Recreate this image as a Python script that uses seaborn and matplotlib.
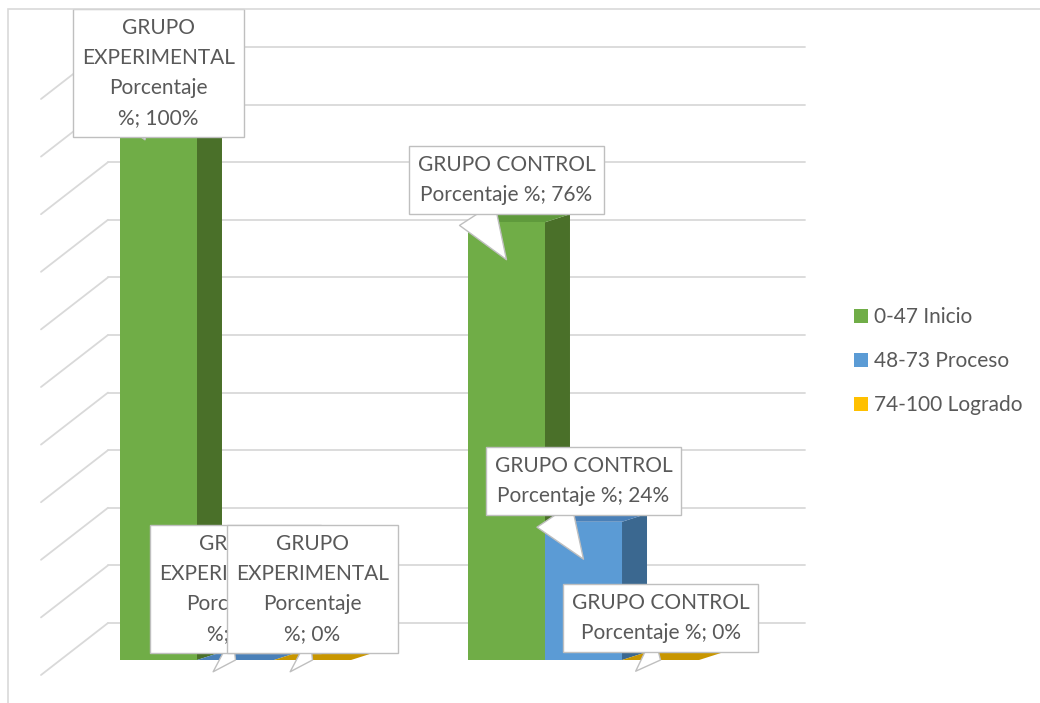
import textwrap
import numpy as np
import pandas as pd
import matplotlib
matplotlib.use("Agg")
import matplotlib.pyplot as plt
import seaborn as sns
from matplotlib.patches import Polygon, Rectangle

# data
grupos = ["GRUPO EXPERIMENTAL", "GRUPO CONTROL"]
niveles = ["0-47 Inicio", "48-73 Proceso", "74-100 Logrado"]
experimental = [100, 0, 0]
control = [76, 24, 0]

# colours (front, side, top) per level
front_colors = ["#70ad47", "#5b9bd5", "#ffc000"]
side_colors = ["#4a7029", "#3b6890", "#bf9000"]
top_colors = ["#5f9a3c", "#4a80b8", "#c89600"]
grid_color = "#d9d9d9"
text_color = "#595959"

# label layout: wrap width per group, tip drop (%) and box offset (px)
wrap_width = [12, 17]
tip_drop = [[0, 0, 0], [6.5, 6.5, 0]]
box_dy = [[11, 71, 71], [80, 78, 42]]

sns.set_theme(style="white")
plt.rcParams["font.family"] = ["Lato", "DejaVu Sans"]

W, H = 1040, 703
fig = plt.figure(figsize=(W / 100, H / 100), dpi=100)
ax = fig.add_axes([0, 0, 1, 1])

df = pd.DataFrame({
    "grupo": np.repeat(grupos, len(niveles)),
    "nivel": niveles * len(grupos),
    "porcentaje": experimental + control,
})

sns.barplot(data=df, x="grupo", y="porcentaje", hue="nivel", order=grupos,
            hue_order=niveles, palette=front_colors, saturation=1,
            width=0.664, errorbar=None, linewidth=0, ax=ax)

# pixel geometry of the 3d look
px_pct = 5.76          # pixels per percent
floor_px = 660         # front floor line in pixels
x0_px, px_unit = 235.5, 348.0
ax.set_xlim(-x0_px / px_unit, (W - x0_px) / px_unit)
ax.set_ylim((floor_px - H) / px_pct, floor_px / px_pct)
ax.axis("off")

def xd(px):
    return (px - x0_px) / px_unit

side_dx = 25 / px_unit
top_dy = 8 / px_pct
back_off = (floor_px - 623) / px_pct
front_off = (floor_px - 675) / px_pct

# back wall + side wall gridlines
for v in np.arange(0, 101, 10):
    ax.plot([xd(108), xd(805)], [v + back_off] * 2, color=grid_color, lw=1.3, zorder=1)
    ax.plot([xd(41), xd(108)], [v + front_off, v + back_off], color=grid_color, lw=1.3, zorder=1)

# side and top faces of the bars
for i, cont in enumerate(ax.containers):
    for bar in cont:
        bx0 = bar.get_x()
        bx1 = bx0 + bar.get_width()
        h = bar.get_height()
        bar.set_zorder(3 + 2 * i)
        side = Polygon([(bx1, 0), (bx1 + side_dx, top_dy), (bx1 + side_dx, h + top_dy), (bx1, h)],
                       closed=True, fc=side_colors[i], ec="none", zorder=2.5 + 2 * i)
        top = Polygon([(bx0, h), (bx1, h), (bx1 + side_dx, h + top_dy), (bx0 + side_dx, h + top_dy)],
                      closed=True, fc=top_colors[i], ec="none", zorder=2.5 + 2 * i)
        ax.add_patch(side)
        ax.add_patch(top)

# callout labels
for i, cont in enumerate(ax.containers):
    for g, bar in enumerate(cont):
        h = bar.get_height()
        cx = bar.get_x() + bar.get_width() / 2
        txt = textwrap.fill(f"{grupos[g]} Porcentaje %; {h:.0f}%", wrap_width[g])
        ax.annotate(txt, xy=(cx, h - tip_drop[g][i]), xytext=(0, box_dy[g][i]),
                    textcoords="offset pixels", ha="center", va="center",
                    fontsize=15, color=text_color, linespacing=1.62, zorder=20,
                    bbox=dict(boxstyle="square,pad=0.43", fc="white", ec="#bfbfbf", lw=1),
                    arrowprops=dict(arrowstyle="wedge,tail_width=2.0", fc="white", ec="#bfbfbf",
                                    lw=1, relpos=(0.3, 0), shrinkA=0, shrinkB=0))

# legend
handles, labels = ax.get_legend_handles_labels()
ax.legend(handles, labels, loc="center left", bbox_to_anchor=(846 / W, 1 - 361 / H),
          frameon=False, fontsize=15, labelcolor=text_color, handlelength=0.65,
          handleheight=0.65, handletextpad=0.3, labelspacing=1.15, borderaxespad=0)

# outer chart border
fig.add_artist(Rectangle((8 / W, -0.1), 1.2, (H - 9) / H + 0.1, transform=fig.transFigure,
                         fill=False, ec=grid_color, lw=1.2))

fig.savefig("out.png", dpi=100)
